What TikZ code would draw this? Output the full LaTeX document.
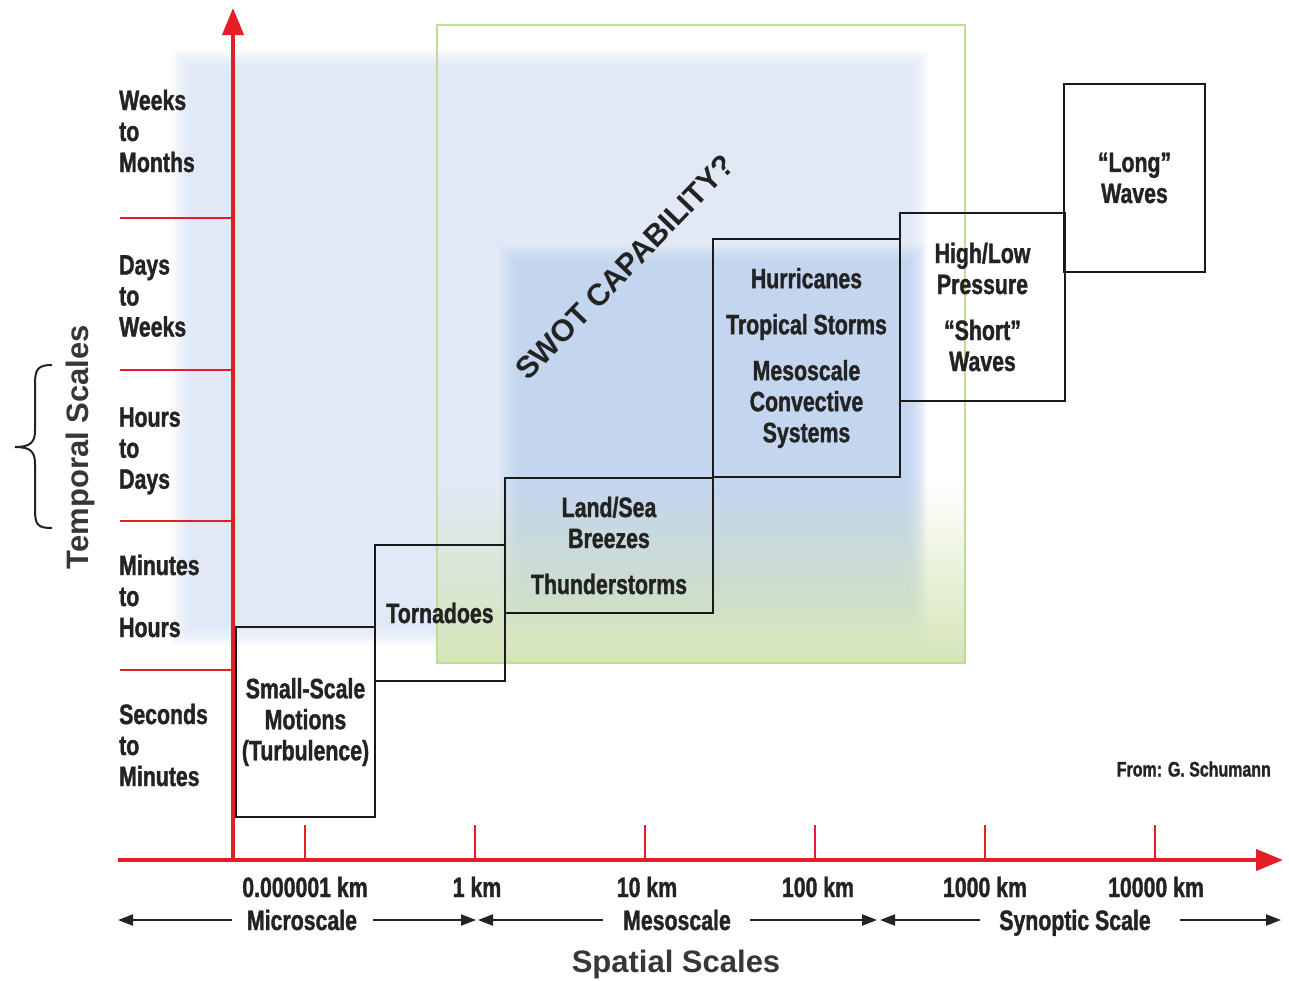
\documentclass[tikz,border=0pt]{standalone}
\usepackage{fontspec}
\setmainfont{Liberation Sans}
\newfontfamily\condfont[FakeStretch=0.76,FakeBold=1.3]{Liberation Sans}
\usetikzlibrary{arrows.meta,fadings}
\definecolor{axisred}{RGB}{228,30,38}
\definecolor{outerblue}{RGB}{214,225,243}
\definecolor{innerblue}{RGB}{188,210,238}
\definecolor{greenfill}{RGB}{212,228,182}
\definecolor{greenline}{RGB}{190,222,150}
\definecolor{inkgray}{RGB}{35,35,35}
\definecolor{titlegray}{RGB}{55,55,55}
\tikzset{
  boxnode/.style={draw=black!90, line width=2pt, inner sep=0pt, align=center,
    text=inkgray, font=\condfont\bfseries\fontsize{28}{31}\selectfont},
  rowlbl/.style={anchor=west, inner sep=0pt, align=left, text=inkgray,
    font=\condfont\bfseries\fontsize{28}{31}\selectfont},
  scalelbl/.style={inner sep=0pt, text height=20pt, text depth=0pt, text=inkgray,
    font=\condfont\bfseries\fontsize{28}{31}\selectfont},
  axisline/.style={draw=axisred, line width=4pt, -{Triangle[length=27pt,width=21pt]}},
  tickline/.style={draw=axisred, line width=2pt},
  rangearrow/.style={draw=inkgray, line width=2pt, -{Triangle[length=15pt,width=11pt]}},
  axistitle/.style={inner sep=0pt, text=titlegray, font=\bfseries\fontsize{31}{34}\selectfont}
}
\begin{document}
\begin{tikzpicture}[x=1pt,y=-1pt]
\useasboundingbox (0,0) rectangle (1289,980);
% outer light blue region
\foreach \i in {0,...,9}{
  \fill[outerblue, opacity=0.12] ({172+2*\i},{50+2*\i}) rectangle ({928-2*\i},{645-2*\i});
}
% inner darker blue region
\foreach \i in {0,...,9}{
  \fill[innerblue, opacity=0.12] ({500+2*\i},{245+2*\i}) rectangle ({925-2*\i},{625-2*\i});
}
% green SWOT region
\fill[greenfill, path fading=north] (437,480) rectangle (965,663);
\draw[greenline, line width=1.5pt] (437,25) rectangle (965,663);

% SWOT label
\node[rotate=46, inner sep=0pt, text=inkgray, font=\bfseries\fontsize{30.5}{33}\selectfont] (swot) at (625,267) {SWOT CAPABILITY?};

% phenomenon boxes
\node[boxnode, minimum width=139pt, minimum height=190pt] (small) at (305.5,722) {Small-Scale\\Motions\\(Turbulence)};
\node[boxnode, minimum width=130pt, minimum height=136pt] (torn) at (440,613) {Tornadoes};
\node[boxnode, minimum width=208pt, minimum height=135pt] (land) at (609,545.5) {Land/Sea\\Breezes\\[15pt]Thunderstorms};
\node[boxnode, minimum width=187pt, minimum height=238pt] (hurr) at (806.5,358) {Hurricanes\\[15pt]Tropical Storms\\[15pt]Mesoscale\\Convective\\Systems};
\node[boxnode, minimum width=165pt, minimum height=188pt] (high) at (982.5,307) {High/Low\\Pressure\\[15pt]“Short”\\Waves};
\node[boxnode, minimum width=141pt, minimum height=188pt] (long) at (1134.5,178) {“Long”\\Waves};

% temporal row labels
\node[rowlbl] (r1) at (119,131) {Weeks\\to\\Months};
\node[rowlbl] (r2) at (119,296) {Days\\to\\Weeks};
\node[rowlbl] (r3) at (119,451) {Hours\\to\\Days};
\node[rowlbl] (r4) at (119,596) {Minutes\\to\\Hours};
\node[rowlbl] (r5) at (119,745) {Seconds\\to\\Minutes};

% row separators
\foreach \y in {218,370,521,670}{
  \draw[tickline] (120,\y) -- (232,\y);
}
% spatial ticks
\foreach \x in {305,475,645,815,985,1155}{
  \draw[tickline] (\x,825) -- (\x,860);
}

% axes
\coordinate (O) at (233,862);
\coordinate (ytip) at (233,8);
\coordinate (xstart) at (118,860);
\coordinate (xtip) at (1283,860);
\draw[axisline] (O) -- (ytip);
\draw[axisline] (xstart) -- (xtip);

% spatial values
\node[scalelbl] (k1) at (305,887) {0.000001 km};
\node[scalelbl] (k2) at (477,887) {1 km};
\node[scalelbl] (k3) at (647,887) {10 km};
\node[scalelbl] (k4) at (818,887) {100 km};
\node[scalelbl] (k5) at (985,887) {1000 km};
\node[scalelbl] (k6) at (1156,887) {10000 km};

% scale ranges
\node[scalelbl] (micro) at (302,920) {Microscale};
\node[scalelbl] (meso) at (677,920) {Mesoscale};
\node[scalelbl] (syn) at (1075,920) {Synoptic Scale};
\coordinate (a1) at (232,920); \coordinate (a1e) at (118,920);
\coordinate (a2) at (373,920); \coordinate (a2e) at (476,920);
\coordinate (a3) at (603,920); \coordinate (a3e) at (478,920);
\coordinate (a4) at (750,920); \coordinate (a4e) at (877,920);
\coordinate (a5) at (980,920); \coordinate (a5e) at (880,920);
\coordinate (a6) at (1180,920); \coordinate (a6e) at (1281,920);
\draw[rangearrow] (a1) -- (a1e);
\draw[rangearrow] (a2) -- (a2e);
\draw[rangearrow] (a3) -- (a3e);
\draw[rangearrow] (a4) -- (a4e);
\draw[rangearrow] (a5) -- (a5e);
\draw[rangearrow] (a6) -- (a6e);

% axis titles
\node[axistitle] (spatial) at (676,964) {Spatial Scales};
\node[axistitle, rotate=90] (temporal) at (80,447) {Temporal Scales};

% brace
\draw[inkgray, line width=2pt] (52,365) .. controls (38,365) and (35,369) .. (35,384) -- (35,430)
  .. controls (35,442) and (31,447) .. (15,447) .. controls (31,447) and (35,452) .. (35,464)
  -- (35,510) .. controls (35,525) and (38,528) .. (52,528);

% credit
\node[anchor=east, inner sep=0pt, text height=15pt, text depth=0pt, text=inkgray,
  font=\condfont\bfseries\fontsize{21}{24}\selectfont] (credit) at (1271,769) {From: G. Schumann};
\end{tikzpicture}
\end{document}
